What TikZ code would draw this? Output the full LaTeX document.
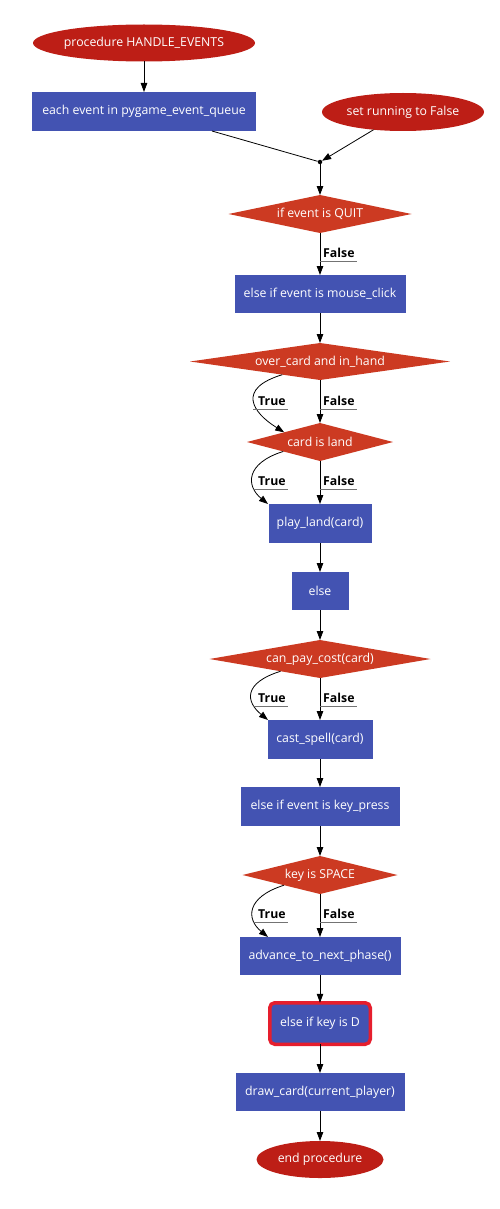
\documentclass[tikz,border=0pt]{standalone}
\usepackage{fontspec}
\setmainfont{Open Sans}
\usetikzlibrary{shapes.geometric,arrows.meta,calc}

\definecolor{termcol}{RGB}{189,30,22}
\definecolor{deccol}{RGB}{204,58,34}
\definecolor{proccol}{RGB}{67,83,178}
\definecolor{hlcol}{RGB}{230,30,45}

% zero-width text box, so the shape size is set by the minimum sizes alone
\newcommand\ctext[1]{\makebox[0pt]{#1}}

\begin{document}
\begin{tikzpicture}[x=1pt,y=-1pt,
  base/.style={inner sep=0pt, outer sep=0pt, text=white, font=\fontsize{12.3}{14}\selectfont},
  term/.style={base, ellipse, fill=termcol, minimum height=37pt},
  proc/.style={base, rectangle, fill=proccol, minimum height=38pt},
  dec/.style={base, diamond, fill=deccol, minimum height=38pt},
  flow/.style={-{Triangle[length=9pt,width=6.5pt]}, line width=0.8pt},
  plain/.style={line width=0.8pt},
  lbl/.style={font=\bfseries\fontsize{12.3}{14}\selectfont, inner sep=0pt},
  uline/.style={black!55, line width=0.7pt}
]
\path[use as bounding box] (0,0) rectangle (500,1209);

% nodes
\node[term, minimum width=222pt] (start) at (144,43) {\ctext{procedure HANDLE\_EVENTS}};
\node[proc, minimum width=224pt, minimum height=39pt] (loop) at (144,111.5) {\ctext{each event in pygame\_event\_queue}};
\node[term, minimum width=162pt, minimum height=38pt] (stop) at (403,112) {\ctext{set running to False}};
\node[circle, fill=black, inner sep=0pt, minimum size=4.5pt] (join) at (320,162) {};
\node[dec, minimum width=183pt] (quit) at (320,214) {\ctext{if event is QUIT}};
\node[proc, minimum width=171pt] (click) at (320,294) {\ctext{else if event is mouse\_click}};
\node[dec, minimum width=260pt, minimum height=37pt] (over) at (320,361.5) {\ctext{over\_card and in\_hand}};
\node[dec, minimum width=146pt] (land) at (320,442) {\ctext{card is land}};
\node[proc, minimum width=103pt, minimum height=39pt] (play) at (320,523.5) {\ctext{play\_land(card)}};
\node[proc, minimum width=57pt] (else) at (320,591) {\ctext{else}};
\node[dec, minimum width=221pt] (pay) at (320,659) {\ctext{can\_pay\_cost(card)}};
\node[proc, minimum width=105pt, minimum height=39pt] (cast) at (320,739.5) {\ctext{cast\_spell(card)}};
\node[proc, minimum width=159pt, minimum height=39pt] (key) at (320,806.5) {\ctext{else if event is key\_press}};
\node[dec, minimum width=155pt] (space) at (320,875) {\ctext{key is SPACE}};
\node[proc, minimum width=161pt] (adv) at (320,956) {\ctext{advance\_to\_next\_phase()}};
\node[proc, draw=hlcol, line width=3.5pt, rounded corners=5pt, minimum width=100.5pt, minimum height=41.5pt] (keyd) at (320,1023.5) {\ctext{else if key is D}};
\node[proc, minimum width=169pt] (draw) at (320,1092) {\ctext{draw\_card(current\_player)}};
\node[term, minimum width=127pt] (end) at (320,1159.5) {\ctext{end procedure}};

% straight connectors
\draw[flow] (start) -- (loop);
\draw[plain] (loop) -- (join);
\draw[flow] (stop) -- (join);
\draw[flow] (join) -- (quit);
\draw[flow] (quit) -- (click);
\draw[flow] (click) -- (over);
\draw[flow] (over) -- (land);
\draw[flow] (land) -- (play);
\draw[flow] (play) -- (else);
\draw[flow] (else) -- (pay);
\draw[flow] (pay) -- (cast);
\draw[flow] (cast) -- (key);
\draw[flow] (key) -- (space);
\draw[flow] (space) -- (adv);
\draw[flow] (adv) -- (keyd);
\draw[flow] (keyd) -- (draw);
\draw[flow] (draw) -- (end);

% curved "True" branches
\draw[flow] ($(over.south)!38pt!(over.west)$) .. controls +(-46,14) and +(-32,-20) .. ($(land.north)!37pt!(land.west)$);
\draw[flow] ($(land.south)!38pt!(land.west)$) .. controls +(-38,12) and +(-22,-18) .. ([xshift=-52pt]play.north);
\draw[flow] ($(pay.south)!40pt!(pay.west)$) .. controls +(-38,12) and +(-22,-18) .. ([xshift=-52pt]cast.north);
\draw[flow] ($(space.south)!37pt!(space.west)$) .. controls +(-38,12) and +(-22,-18) .. ([xshift=-52pt]adv.north);

% branch labels with their underlines
\node[lbl, anchor=base west] (f1) at (323,257) {False};
\draw[uline] ($(f1.base west)+(-3,4)$) -- ($(f1.base east)+(2,4)$);

\node[lbl, anchor=base west] (t2) at (258,405) {True};
\draw[uline] ($(t2.base west)+(-5,4)$) -- ($(t2.base east)+(2,4)$);
\node[lbl, anchor=base west] (f2) at (323,405) {False};
\draw[uline] ($(f2.base west)+(-3,4)$) -- ($(f2.base east)+(2,4)$);

\node[lbl, anchor=base west] (t3) at (258,485) {True};
\draw[uline] ($(t3.base west)+(-5,4)$) -- ($(t3.base east)+(2,4)$);
\node[lbl, anchor=base west] (f3) at (323,485) {False};
\draw[uline] ($(f3.base west)+(-3,4)$) -- ($(f3.base east)+(2,4)$);

\node[lbl, anchor=base west] (t4) at (258,702) {True};
\draw[uline] ($(t4.base west)+(-5,4)$) -- ($(t4.base east)+(2,4)$);
\node[lbl, anchor=base west] (f4) at (323,702) {False};
\draw[uline] ($(f4.base west)+(-3,4)$) -- ($(f4.base east)+(2,4)$);

\node[lbl, anchor=base west] (t5) at (258,918) {True};
\draw[uline] ($(t5.base west)+(-5,4)$) -- ($(t5.base east)+(2,4)$);
\node[lbl, anchor=base west] (f5) at (323,918) {False};
\draw[uline] ($(f5.base west)+(-3,4)$) -- ($(f5.base east)+(2,4)$);
\end{tikzpicture}
\end{document}
